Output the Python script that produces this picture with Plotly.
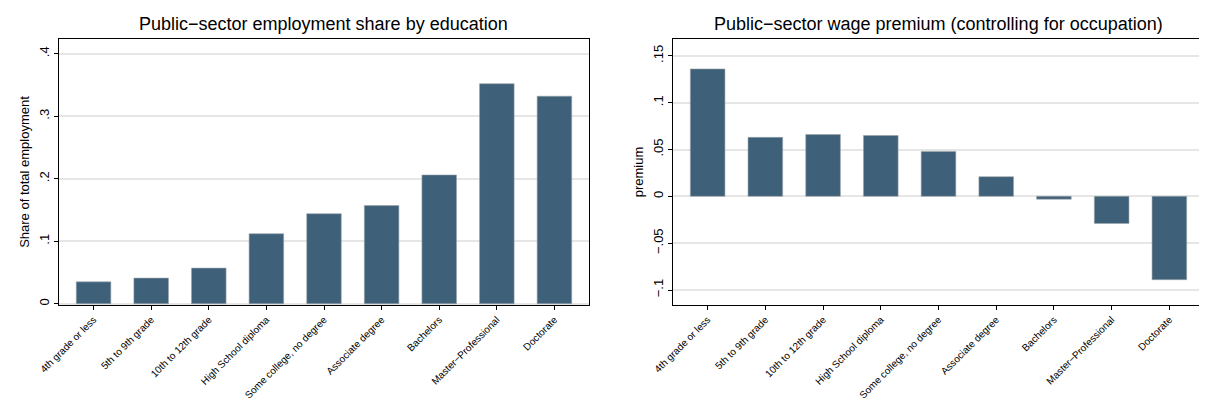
import plotly.graph_objects as go

categories = ["4th grade or less", "5th to 9th grade", "10th to 12th grade", "High School diploma",
              "Some college, no degree", "Associate degree", "Bachelors", "Master\u2212Professional", "Doctorate"]
share = [0.035, 0.041, 0.057, 0.112, 0.144, 0.157, 0.206, 0.352, 0.332]
premium = [0.136, 0.063, 0.066, 0.065, 0.048, 0.021, -0.003, -0.029, -0.089]

W, H = 1207, 405
color = "#3E6079"
fnt = "Liberation Sans, Arial, sans-serif"

fig = go.Figure()
fig.add_trace(go.Bar(x=categories, y=share, marker=dict(color=color, line=dict(color="#9aa3aa", width=0.6)),
                     width=0.6, xaxis="x", yaxis="y"))
fig.add_trace(go.Bar(x=categories, y=premium, marker=dict(color=color, line=dict(color="#9aa3aa", width=0.6)),
                     width=0.6, xaxis="x2", yaxis="y2"))

ydom = [1 - 297 / H, 1 - 31 / H]
common_x = dict(tickangle=-45, tickfont=dict(size=10, color="black"), showline=True, linecolor="black",
                mirror=True, ticks="outside", ticklen=4, tickcolor="black", showgrid=False, range=[-0.6, 8.6],
                automargin=False)
common_y = dict(tickangle=-90, tickfont=dict(size=13, color="black"), showline=True, linecolor="black",
                mirror=True, ticks="outside", ticklen=4, tickcolor="black", gridcolor="#e6e6e6",
                gridwidth=1.5, zeroline=False, automargin=False)

fig.update_layout(
    width=W, height=H, showlegend=False, plot_bgcolor="white", paper_bgcolor="white",
    margin=dict(l=0, r=0, t=0, b=0), font=dict(family=fnt, color="black"),
    xaxis=dict(domain=[51 / W, 581 / W], anchor="y", **common_x),
    yaxis=dict(domain=ydom, anchor="x", range=[-0.002, 0.4235], tickvals=[0, 0.1, 0.2, 0.3, 0.4],
               ticktext=["0", ".1", ".2", ".3", ".4"],
               title=dict(text="Share of total employment", font=dict(size=13), standoff=4), **common_y),
    xaxis2=dict(domain=[665 / W, 1196 / W], anchor="y2", **common_x),
    yaxis2=dict(domain=ydom, anchor="x2", range=[-0.116, 0.168], tickvals=[-0.1, -0.05, 0, 0.05, 0.1, 0.15],
                ticktext=["\u2212.1", "\u2212.05", "0", ".05", ".1", ".15"],
                title=dict(text="premium", font=dict(size=13), standoff=4), **common_y),
    annotations=[
        dict(text="Public\u2212sector employment share by education", x=(51 + 581) / 2 / W, y=1 - 16 / H,
             xref="paper", yref="paper", showarrow=False, font=dict(size=18), xanchor="center", yanchor="middle"),
        dict(text="Public\u2212sector wage premium (controlling for occupation)", x=(665 + 1196) / 2 / W, y=1 - 16 / H,
             xref="paper", yref="paper", showarrow=False, font=dict(size=18), xanchor="center", yanchor="middle"),
    ],
)
fig.write_html("out.html")
